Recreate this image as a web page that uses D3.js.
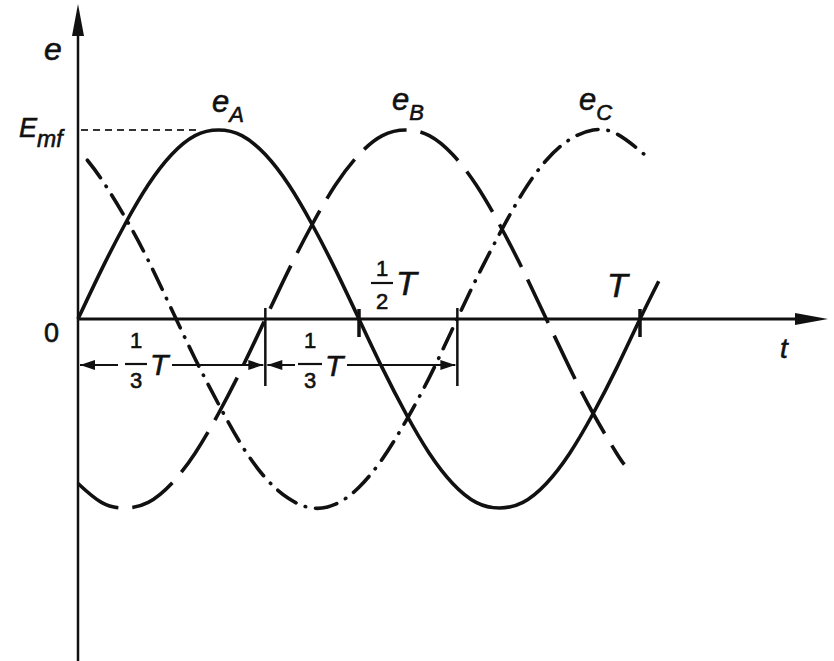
<!DOCTYPE html>
<html>
<head>
<meta charset="utf-8">
<script src="https://cdn.jsdelivr.net/npm/d3@7"></script>
<style>
  body { margin: 0; background: #fff; }
  text { font-family: "Liberation Sans", Arial, sans-serif; fill: #111; stroke: #111; stroke-width: 0.6; }
  .it { font-style: italic; }
</style>
</head>
<body>
<svg id="canvas" width="834" height="661"></svg>
<script>
// phase angle in degrees (360 = one period T), value as fraction of Emf
let eAAngles = [0, 15, 30, 45, 60, 75, 90, 105, 120, 135, 150, 165, 180, 195, 210, 225, 240, 255, 270, 285, 300, 315, 330, 345, 360, 372];
let eAValues = [0, 0.26, 0.5, 0.71, 0.87, 0.97, 1, 0.97, 0.87, 0.71, 0.5, 0.26, 0, -0.26, -0.5, -0.71, -0.87, -0.97, -1, -0.97, -0.87, -0.71, -0.5, -0.26, 0, 0.2];

let eBAngles = [0, 15, 30, 45, 60, 75, 90, 105, 120, 135, 150, 165, 180, 195, 210, 225, 240, 255, 270, 285, 300, 315, 330, 345, 350];
let eBValues = [-0.87, -0.97, -1, -0.97, -0.87, -0.71, -0.5, -0.26, 0, 0.26, 0.5, 0.71, 0.87, 0.97, 1, 0.97, 0.87, 0.71, 0.5, 0.26, 0, -0.26, -0.5, -0.71, -0.77];

let eCAngles = [6, 15, 30, 45, 60, 75, 90, 105, 120, 135, 150, 165, 180, 195, 210, 225, 240, 255, 270, 285, 300, 315, 330, 345, 360, 363];
let eCValues = [0.84, 0.74, 0.54, 0.31, 0.05, -0.21, -0.45, -0.67, -0.84, -0.95, -1, -0.98, -0.89, -0.74, -0.54, -0.31, -0.05, 0.21, 0.45, 0.67, 0.84, 0.95, 1, 0.98, 0.89, 0.87];

// marks on the t axis
let thirdMarks = [120, 243];
let crossMarks = [180, 360];
let peakAngle = 90;

let svg = d3.select("#canvas");

let x = d3.scaleLinear().domain([0, 360]).range([78, 640]);
let y = d3.scaleLinear().domain([-1, 1]).range([508, 130]);

let ink = "#111";

let zip = (a, b) => a.map((v, i) => [v, b[i]]);

let line = d3
  .line()
  .x((d) => x(d[0]))
  .y((d) => y(d[1]))
  .curve(d3.curveNatural);

// axes
svg.append("line")
  .attr("x1", x(0)).attr("x2", x(0))
  .attr("y1", 30).attr("y2", 661)
  .attr("stroke", ink).attr("stroke-width", 2.5);
svg.append("path")
  .attr("d", `M${x(0)},4 L${x(0) - 6},36 L${x(0) + 6},36 Z`)
  .attr("fill", ink);

svg.append("line")
  .attr("x1", x(0)).attr("x2", 800)
  .attr("y1", y(0)).attr("y2", y(0))
  .attr("stroke", ink).attr("stroke-width", 3);
svg.append("path")
  .attr("d", `M828,${y(0)} L795,${y(0) - 6} L795,${y(0) + 6} Z`)
  .attr("fill", ink);

// Emf guide
svg.append("line")
  .attr("x1", x(0) + 3).attr("x2", x(peakAngle) - 20)
  .attr("y1", y(1)).attr("y2", y(1))
  .attr("stroke", "#333").attr("stroke-width", 2)
  .attr("stroke-dasharray", "7,5");

// curves
svg.append("path")
  .attr("d", line(zip(eAAngles, eAValues)))
  .attr("fill", "none").attr("stroke", ink)
  .attr("stroke-width", 3.6);

svg.append("path")
  .attr("d", line(zip(eBAngles, eBValues)))
  .attr("fill", "none").attr("stroke", ink)
  .attr("stroke-width", 3.6)
  .attr("stroke-dasharray", "48,14");

svg.append("path")
  .attr("d", line(zip(eCAngles, eCValues)))
  .attr("fill", "none").attr("stroke", ink)
  .attr("stroke-width", 3.6)
  .attr("stroke-linecap", "round")
  .attr("stroke-dasharray", "22,10,0.5,10");

// marks
thirdMarks.forEach((a) => {
  svg.append("line")
    .attr("x1", x(a)).attr("x2", x(a))
    .attr("y1", 308).attr("y2", 386)
    .attr("stroke", ink).attr("stroke-width", 2.5);
});
crossMarks.forEach((a) => {
  svg.append("line")
    .attr("x1", x(a)).attr("x2", x(a))
    .attr("y1", 309).attr("y2", 337)
    .attr("stroke", ink).attr("stroke-width", 3.5);
});

// dimension arrows
let arrowY = 365;
let head = (tipX, dir) => {
  svg.append("path")
    .attr("d", `M${tipX},${arrowY} L${tipX - dir * 15},${arrowY - 5} L${tipX - dir * 15},${arrowY + 5} Z`)
    .attr("fill", ink);
};
let seg = (x1, x2) => {
  svg.append("line")
    .attr("x1", x1).attr("x2", x2)
    .attr("y1", arrowY).attr("y2", arrowY)
    .attr("stroke", ink).attr("stroke-width", 2);
};
let a0 = x(0) + 2, a1 = x(thirdMarks[0]), a2 = x(thirdMarks[1]);
seg(a0, 118); seg(172, a1 - 2);
head(a0, -1); head(a1 - 2, 1);
seg(a1 + 2, 295); seg(347, a2 - 2);
head(a1 + 2, -1); head(a2 - 2, 1);

let frac = (cx, barY, numY, denY, num, den, half) => {
  svg.append("text").attr("x", cx).attr("y", numY)
    .attr("text-anchor", "middle").attr("font-size", 22).text(num);
  svg.append("line")
    .attr("x1", cx - half).attr("x2", cx + half)
    .attr("y1", barY).attr("y2", barY)
    .attr("stroke", ink).attr("stroke-width", 2.2);
  svg.append("text").attr("x", cx).attr("y", denY)
    .attr("text-anchor", "middle").attr("font-size", 22).text(den);
};

let label = (tx, ty, str, size, italic) => {
  return svg.append("text")
    .attr("x", tx).attr("y", ty)
    .attr("font-size", size)
    .attr("class", italic ? "it" : null)
    .text(str);
};

frac(136, 364, 348, 388, "1", "3", 11);
label(150, 375, "T", 30, true);
frac(310, 364, 348, 388, "1", "3", 12);
label(325, 376, "T", 30, true);
frac(382, 283, 276, 309, "1", "2", 11);
label(396, 295, "T", 34, true);
label(607, 297, "T", 34, true);

// axis names
label(44, 60, "e", 32, true);
label(780, 358, "t", 28, true);
label(44, 342, "0", 27, false);

let sub = (tx, ty, main, s, size, subSize) => {
  let t = svg.append("text").attr("x", tx).attr("y", ty)
    .attr("class", "it").attr("font-size", size);
  t.append("tspan").text(main);
  t.append("tspan").attr("dy", 10).attr("font-size", subSize).text(s);
};
sub(19, 137, "E", "mf", 27, 23);
sub(212, 112, "e", "A", 31, 22);
sub(392, 110, "e", "B", 31, 22);
sub(579, 110, "e", "C", 31, 22);
</script>
</body>
</html>
